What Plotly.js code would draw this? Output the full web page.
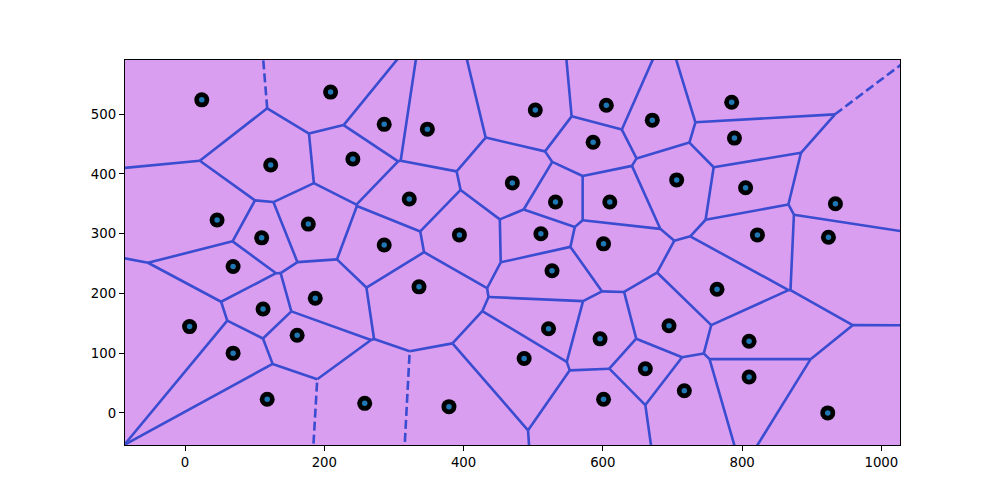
<!DOCTYPE html>
<html>
<head>
<meta charset="utf-8">
<script src="https://cdn.plot.ly/plotly-3.0.1.min.js"></script>
<style>html,body{margin:0;padding:0;background:#fff;}#chart{width:1000px;height:500px;}</style>
</head>
<body>
<div id="chart"></div>
<script>
// Generator points of the Voronoi diagram
const pointsX = [24, 209, 286, 348, 503, 605, 671, 785, 789, 586,
                 123, 241, 470, 706, 805, 46, 177, 322, 532, 610,
                 110, 286, 394, 511, 601, 822, 934, 924, 69, 527,
                 336, 187, 764, 112, 6.5, 161, 522, 695, 596, 810,
                 69, 487, 661, 118, 258, 379, 601, 717, 810, 923];
const pointsY = [524, 537, 483, 475, 507, 515, 490, 520, 460, 453,
                 415, 425, 385, 390, 377, 323, 316, 358, 353, 353,
                 293, 281, 298, 300, 283, 298, 350, 294, 245, 238,
                 211, 192, 207, 174, 144.5, 130, 141, 146, 124, 120,
                 100, 91, 74, 23, 16, 10.5, 23, 37, 60, 0];
const xTicks = [0, 200, 400, 600, 800, 1000];
const yTicks = [0, 100, 200, 300, 400, 500];

const edgeColor = '#3a4ccf';
const cellColor = '#da9ef1';

// --- Voronoi cells by half-plane clipping ---
const n = pointsX.length;
const B = 1e4;
function cellOf(i) {
  let verts = [[-B,-B],[B,-B],[B,B],[-B,B]];
  let labels = [-1,-1,-1,-1];
  const xi = pointsX[i], yi = pointsY[i];
  for (let j = 0; j < n; j++) {
    if (j === i) continue;
    const dx = pointsX[j]-xi, dy = pointsY[j]-yi;
    const mx = (pointsX[j]+xi)/2, my = (pointsY[j]+yi)/2;
    const f = p => (p[0]-mx)*dx + (p[1]-my)*dy; // <=0 inside
    const nv = [], nl = [];
    for (let k = 0; k < verts.length; k++) {
      const a = verts[k], b = verts[(k+1)%verts.length], La = labels[k];
      const fa = f(a), fb = f(b);
      const ina = fa <= 0, inb = fb <= 0;
      if (ina) { nv.push(a); nl.push(La); }
      if (ina !== inb) {
        const t = fa/(fa-fb);
        const I = [a[0]+t*(b[0]-a[0]), a[1]+t*(b[1]-a[1])];
        if (ina) { nv.push(I); nl.push(j); }
        else { nv.push(I); nl.push(La); }
      }
    }
    verts = nv; labels = nl;
    if (verts.length === 0) break;
  }
  return {verts, labels};
}

const cells = [];
for (let i = 0; i < n; i++) cells.push(cellOf(i));

const onBox = p => Math.abs(p[0]) > B*0.999 || Math.abs(p[1]) > B*0.999;

const finX = [], finY = [], infX = [], infY = [];
const traces = [];
cells.forEach((c, i) => {
  const vx = c.verts.map(v => v[0]), vy = c.verts.map(v => v[1]);
  traces.push({x: vx.concat([vx[0]]), y: vy.concat([vy[0]]), mode: 'lines', fill: 'toself',
    fillcolor: cellColor, line: {width: 0, color: cellColor}, hoverinfo: 'skip', showlegend: false});
  const m = c.verts.length;
  for (let k = 0; k < m; k++) {
    const L = c.labels[k];
    if (L <= i) continue; // skip box edges (-1) and duplicates
    const a = c.verts[k], b = c.verts[(k+1)%m];
    if (onBox(a) || onBox(b)) { infX.push(a[0], b[0], null); infY.push(a[1], b[1], null); }
    else { finX.push(a[0], b[0], null); finY.push(a[1], b[1], null); }
  }
});

traces.push({x: finX, y: finY, mode: 'lines', line: {color: edgeColor, width: 2.6}, hoverinfo: 'skip', showlegend: false});
traces.push({x: infX, y: infY, mode: 'lines', line: {color: edgeColor, width: 2.6, dash: '9px,4px'}, hoverinfo: 'skip', showlegend: false});
traces.push({x: pointsX, y: pointsY, mode: 'markers', marker: {color: 'black', size: 15}, showlegend: false});
traces.push({x: pointsX, y: pointsY, mode: 'markers', marker: {color: '#1f77b4', size: 5.5}, showlegend: false});

// axis limits like voronoi_plot_2d: 10% of point spread
const xmin = Math.min(...pointsX), xmax = Math.max(...pointsX);
const ymin = Math.min(...pointsY), ymax = Math.max(...pointsY);
const px = 0.1*(xmax-xmin), py = 0.1*(ymax-ymin);

const axisCommon = {showgrid: false, zeroline: false, showline: true, mirror: true, linecolor: 'black', linewidth: 1.1,
  ticks: 'outside', ticklen: 5, tickwidth: 1.1, tickcolor: 'black',
  tickfont: {family: 'DejaVu Sans', size: 13.3, color: 'black'}};

const layout = {
  width: 1000, height: 500,
  margin: {l: 125, r: 100, t: 60, b: 55},
  paper_bgcolor: 'white', plot_bgcolor: cellColor,
  showlegend: false,
  xaxis: Object.assign({}, axisCommon, {range: [xmin-px, xmax+px], tickvals: xTicks, ticktext: xTicks.map(String)}),
  yaxis: Object.assign({}, axisCommon, {range: [ymin-py, ymax+py], tickvals: yTicks, ticktext: yTicks.map(String)})
};

Plotly.newPlot('chart', traces, layout, {staticPlot: true});
</script>
</body>
</html>
